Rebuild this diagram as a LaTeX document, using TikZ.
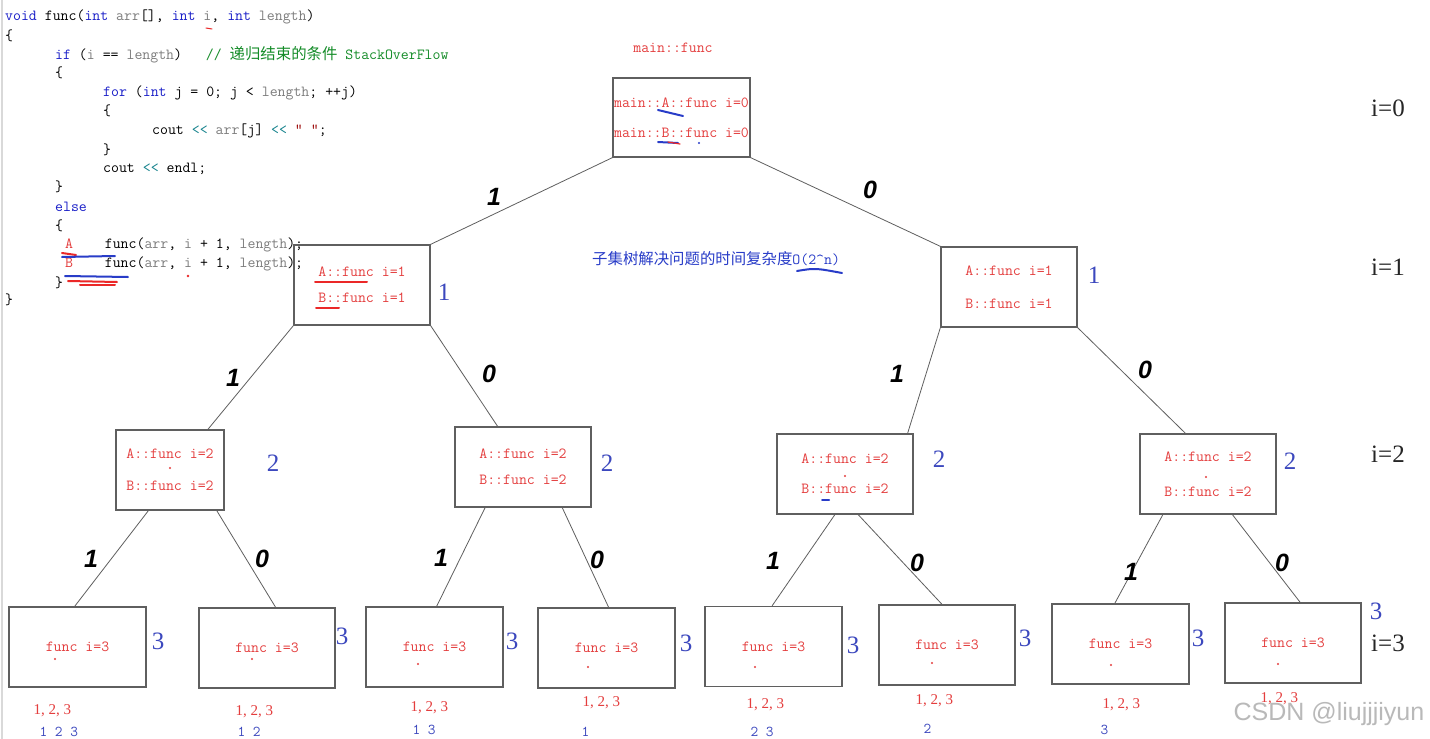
\documentclass[tikz,border=0pt]{standalone}
\usepackage{fontspec}
\newfontfamily\cjk{Noto Sans CJK SC}
\newfontfamily\labelsans{Liberation Sans}
\newfontfamily\numserif{Liberation Serif}

\definecolor{kwblue}{RGB}{25,30,200}
\definecolor{vargray}{RGB}{125,125,125}
\definecolor{opteal}{RGB}{20,130,140}
\definecolor{cmtgreen}{RGB}{20,140,40}
\definecolor{callred}{RGB}{228,62,62}
\definecolor{numblue}{RGB}{60,72,190}
\definecolor{boxgray}{RGB}{95,95,95}
\definecolor{inkblue}{RGB}{40,60,200}
\definecolor{inkred}{RGB}{235,40,40}

\newcommand{\codefont}{\ttfamily\fontsize{15.4}{19}\selectfont}
\newcommand{\kw}[1]{\textcolor{kwblue}{#1}}
\newcommand{\varg}[1]{\textcolor{vargray}{#1}}
\newcommand{\optk}[1]{\textcolor{opteal}{#1}}
\newcommand{\cmt}[1]{\textcolor{cmtgreen}{#1}}
\newcommand{\redtxt}[1]{\textcolor{callred}{#1}}

\tikzset{
  codeline/.style={anchor=west, inner sep=0pt, font=\codefont},
  callbox/.style={draw=boxgray, line width=1.3pt, minimum width=136pt, minimum height=80pt,
    inner sep=0pt, align=center, text=callred, font=\ttfamily\fontsize{15.4}{30}\selectfont},
  branch/.style={draw=boxgray, line width=0.8pt},
  bit/.style={font=\labelsans\bfseries\itshape\fontsize{25}{25}\selectfont},
  depth/.style={text=numblue, font=\numserif\fontsize{25}{25}\selectfont},
  level/.style={text=black!85, font=\numserif\fontsize{25}{25}\selectfont},
  setall/.style={anchor=west, text=callred, font=\numserif\fontsize{15}{15}\selectfont},
  subset/.style={anchor=west, text=numblue, font=\ttfamily\fontsize{15}{15}\selectfont},
  scrib/.style={line width=2pt, line cap=round},
}

\begin{document}
\begin{tikzpicture}[x=1pt, y=-1pt]
  \useasboundingbox (0,0) rectangle (1430,739);
  \fill[white] (0,0) rectangle (1430,739);
  \draw[gray!30, line width=1.5pt] (2,0) -- (2,739);

  % the code
  \node[codeline] (c1) at (5,17) {\kw{void} func(\kw{int} \varg{arr}[], \kw{int} \varg{i}, \kw{int} \varg{length})};
  \node[codeline] (c2) at (5,36) {\{};
  \node[codeline] (c3) at (55,55) {\kw{if} (\varg{i} == \varg{length})\ \ \ \cmt{// {\cjk 递归结束的条件} StackOverFlow}};
  \node[codeline] (c4) at (55,73) {\{};
  \node[codeline] (c5) at (103,93) {\kw{for} (\kw{int} j = 0; j < \varg{length}; ++j)};
  \node[codeline] (c6) at (103,111) {\{};
  \node[codeline] (c7) at (152,131) {cout \optk{<<} \varg{arr}[j] \optk{<<} \textcolor{red!60!black}{" "};};
  \node[codeline] (c8) at (103,150) {\}};
  \node[codeline] (c9) at (103,169) {cout \optk{<<} endl;};
  \node[codeline] (c10) at (55,187) {\}};
  \node[codeline] (c11) at (55,207) {\kw{else}};
  \node[codeline] (c12) at (55,226) {\{};
  \node[codeline] (c13) at (65,245) {\redtxt{A}\ \ \ \ func(\varg{arr}, \varg{i} + 1, \varg{length});};
  \node[codeline] (c14) at (65,264) {\redtxt{B}\ \ \ \ func(\varg{arr}, \varg{i} + 1, \varg{length});};
  \node[codeline] (c15) at (55,283) {\}};
  \node[codeline] (c16) at (5,300) {\}};

  % ink marks
  \draw[inkred, scrib, line width=1pt] (206,28) -- (212,29);
  \draw[inkred, scrib] (62,253) -- (76,255);
  \draw[inkblue, scrib] (62,257) -- (115,256);
  \draw[inkblue, scrib] (65,276) -- (128,277);
  \draw[inkred, scrib] (68,281) -- (117,282);
  \draw[inkred, scrib] (80,285) -- (115,285);
  \fill[inkred] (188,276) circle (1.3pt);

  % the tree
  \node[red!85!black, font=\ttfamily\fontsize{15.4}{19}\selectfont, text=callred] (top) at (673,48) {main::func};
  \node[callbox, minimum width=137pt, minimum height=79pt] (root) at (681.5,117.5) {main::A::func i=0\\main::B::func i=0};
  \node[callbox] (l1a) at (362,285) {A::func i=1\\[-4pt]B::func i=1};
  \node[callbox] (l1b) at (1009,287) {A::func i=1\\[3pt]B::func i=1};
  \node[callbox, minimum width=108pt] (l2a) at (170,470) {A::func i=2\\[2pt]B::func i=2};
  \node[callbox] (l2b) at (523,467) {A::func i=2\\[-4pt]B::func i=2};
  \node[callbox] (l2c) at (845,474) {A::func i=2\\B::func i=2};
  \node[callbox] (l2d) at (1208,474) {A::func i=2\\[5pt]B::func i=2};
  \node[callbox, minimum width=137pt] (l3a) at (77.5,647) {func i=3};
  \node[callbox] (l3b) at (267,648) {func i=3};
  \node[callbox, minimum width=137pt] (l3c) at (434.5,647) {func i=3};
  \node[callbox, minimum width=137pt] (l3d) at (606.5,648) {func i=3};
  \node[callbox, minimum width=137pt] (l3e) at (773.5,646.5) {func i=3};
  \node[callbox] (l3f) at (947,645) {func i=3};
  \node[callbox, minimum width=137pt] (l3g) at (1120.5,644) {func i=3};
  \node[callbox] (l3h) at (1293,643) {func i=3};

  \draw[branch] (root.south west) -- (l1a.north east);
  \draw[branch] (root.south east) -- (l1b.north west);
  \draw[branch] (l1a.south west) -- (l2a.47);
  \draw[branch] (l1a.south east) -- (l2b.122);
  \draw[branch] (l1b.south west) -- (l2c.33);
  \draw[branch] (l1b.south east) -- (l2d.119);
  \draw[branch] (l2a.242) -- (l3a.94);
  \draw[branch] (l2a.319) -- (l3b.78);
  \draw[branch] (l2b.227) -- (l3c.87);
  \draw[branch] (l2b.314) -- (l3d.87);
  \draw[branch] (l2c.256) -- (l3e.92);
  \draw[branch] (l2c.288) -- (l3f.97);
  \draw[branch] (l2d.222) -- (l3g.98);
  \draw[branch] (l2d.301) -- (l3h.80);

  % 1 / 0 on the branches
  \node[bit] (b1) at (494,197) {1};
  \node[bit] (b2) at (870,190) {0};
  \node[bit] (b3) at (233,378) {1};
  \node[bit] (b4) at (489,374) {0};
  \node[bit] (b5) at (897,374) {1};
  \node[bit] (b6) at (1145,370) {0};
  \node[bit] (b7) at (91,559) {1};
  \node[bit] (b8) at (262,559) {0};
  \node[bit] (b9) at (441,558) {1};
  \node[bit] (b10) at (597,560) {0};
  \node[bit] (b11) at (773,561) {1};
  \node[bit] (b12) at (917,563) {0};
  \node[bit] (b13) at (1131,572) {1};
  \node[bit] (b14) at (1282,563) {0};

  % depth beside the boxes
  \node[depth] (d1a) at (444,292) {1};
  \node[depth] (d1b) at (1094,275) {1};
  \node[depth] (d2a) at (273,463) {2};
  \node[depth] (d2b) at (607,463) {2};
  \node[depth] (d2c) at (939,459) {2};
  \node[depth] (d2d) at (1290,461) {2};
  \node[depth] (d3a) at (158,641) {3};
  \node[depth] (d3b) at (342,636) {3};
  \node[depth] (d3c) at (512,641) {3};
  \node[depth] (d3d) at (686,643) {3};
  \node[depth] (d3e) at (853,645) {3};
  \node[depth] (d3f) at (1025,638) {3};
  \node[depth] (d3g) at (1198,638) {3};
  \node[depth] (d3h) at (1376,611) {3};

  \node[level] (i0) at (1388,108) {i=0};
  \node[level] (i1) at (1388,267) {i=1};
  \node[level] (i2) at (1388,454) {i=2};
  \node[level] (i3) at (1388,643) {i=3};

  \node[anchor=west, inner sep=0pt, text=inkblue, font=\fontsize{15.4}{19}\selectfont] (note) at (592,259)
    {{\cjk 子集树解决问题的时间复杂度}\ttfamily O(2\textasciicircum n)};
  \draw[inkblue, scrib] (797,271) .. controls (815,268) .. (842,273);

  % marks in the boxes
  \draw[inkblue, scrib] (658,110) -- (683,116);
  \draw[inkblue, scrib] (658,142) -- (678,143);
  \draw[inkred, scrib, line width=1.2pt] (668,142) -- (680,144);
  \fill[inkblue] (699,143) circle (1.2pt);
  \draw[inkred, scrib] (315,282) -- (367,282);
  \draw[inkred, scrib] (316,308) -- (339,308);
  \draw[inkblue, scrib] (822,500) -- (829,500);
  \foreach \px/\py in {170/468, 845/476, 1206/477, 55/659, 252/659, 418/664, 588/667,
                       755/667, 932/663, 1111/665, 1278/664}
    \fill[callred] (\px,\py) circle (1.2pt);

  % results under the leaves
  \node[setall] (s1) at (30,711) {1, 2, 3};
  \node[setall] (s2) at (232,712) {1, 2, 3};
  \node[setall] (s3) at (407,708) {1, 2, 3};
  \node[setall] (s4) at (579,703) {1, 2, 3};
  \node[setall] (s5) at (743,705) {1, 2, 3};
  \node[setall] (s6) at (912,701) {1, 2, 3};
  \node[setall] (s7) at (1099,705) {1, 2, 3};
  \node[setall] (s8) at (1257,699) {1, 2, 3};
  \node[subset] (p1) at (36,732) {1 2 3};
  \node[subset] (p2) at (234,732) {1 2};
  \node[subset] (p3) at (409,730) {1 3};
  \node[subset] (p4) at (578,732) {1};
  \node[subset] (p5) at (747,732) {2 3};
  \node[subset] (p6) at (920,729) {2};
  \node[subset] (p7) at (1097,730) {3};

  \node[text=gray!55, font=\labelsans\fontsize{25}{25}\selectfont] (mark) at (1329,714) {CSDN @liujjjiyun};
\end{tikzpicture}
\end{document}
